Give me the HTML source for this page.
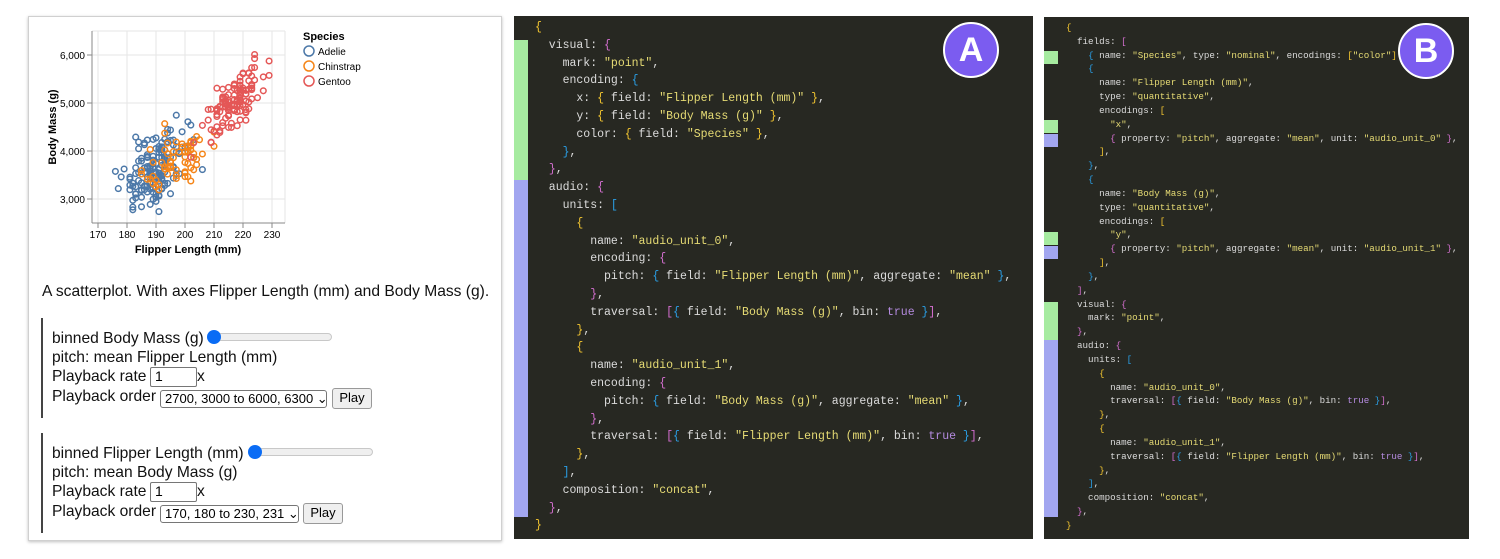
<!DOCTYPE html>
<html><head><meta charset="utf-8">
<style>
html,body{margin:0;padding:0;width:1500px;height:559px;background:#fff;overflow:hidden;position:relative;font-family:"Liberation Sans",Arial,sans-serif}
.card{position:absolute;left:28px;top:16px;width:472px;height:523px;background:#fff;border:1px solid #d0d0d0;box-shadow:0 1px 3px rgba(0,0,0,.25)}
.t{position:absolute;font-size:15.6px;color:#111;white-space:nowrap;line-height:19px}
.sec{position:absolute;left:41px;width:2px;background:#444}
.inp{position:absolute;border:1px solid #767676;border-radius:2px;background:#fff;font-size:14px;padding-left:4px;box-sizing:border-box;line-height:17px}
.sel{position:absolute;border:1px solid #767676;border-radius:3px;background:#fff;font-size:13px;padding-left:4px;box-sizing:border-box;line-height:15px;white-space:nowrap;overflow:hidden}
.btn{position:absolute;border:1px solid #999;border-radius:3px;background:#efefef;font-size:13px;text-align:center;box-sizing:border-box;line-height:18px}
.track{position:absolute;height:6px;border:1px solid #c8c8c8;border-radius:4px;background:#efefef}
.thumb{position:absolute;width:14px;height:14px;border-radius:50%;background:#0a6cf5}
.panel{position:absolute;background:#272822}
pre{margin:0;position:absolute;font-family:"Liberation Mono","DejaVu Sans Mono",monospace;color:#dcdcdc;white-space:pre}
.s{color:#e6db74}.a{color:#f2c530}.p{color:#d46fd0}.b{color:#2a9fe6}.v{color:#b58be0}
.bar{position:absolute}
.g{background:#a6eba0}.u{background:#a2a6f0}
.badge{position:absolute;width:52px;height:52px;border-radius:50%;background:#7b5cf0;border:2px solid #fff;color:#fff;font-weight:bold;font-size:34px;text-align:center;line-height:52px;font-family:"Liberation Sans",Arial,sans-serif}
</style></head><body>
<div class="card"></div>
<svg id="plot" style="position:absolute;left:0;top:0" width="500" height="270">
<g stroke="#e6e6e6" stroke-width="1">
<line x1="98" y1="31" x2="98" y2="223"/><line x1="127" y1="31" x2="127" y2="223"/><line x1="156" y1="31" x2="156" y2="223"/><line x1="185" y1="31" x2="185" y2="223"/><line x1="214" y1="31" x2="214" y2="223"/><line x1="243" y1="31" x2="243" y2="223"/><line x1="272" y1="31" x2="272" y2="223"/>
<line x1="92" y1="55" x2="285" y2="55"/><line x1="92" y1="103" x2="285" y2="103"/><line x1="92" y1="151" x2="285" y2="151"/><line x1="92" y1="199" x2="285" y2="199"/>
<line x1="285" y1="31" x2="285" y2="223"/><line x1="92" y1="31" x2="285" y2="31"/>
</g>
<g id="pts" fill="none" stroke-width="1.5"></g>
<g stroke="#888" stroke-width="1"><line x1="92" y1="31" x2="92" y2="223"/><line x1="92" y1="223" x2="285" y2="223"/>
<line x1="98" y1="223" x2="98" y2="228"/><line x1="127" y1="223" x2="127" y2="228"/><line x1="156" y1="223" x2="156" y2="228"/><line x1="185" y1="223" x2="185" y2="228"/><line x1="214" y1="223" x2="214" y2="228"/><line x1="243" y1="223" x2="243" y2="228"/><line x1="272" y1="223" x2="272" y2="228"/>
<line x1="87" y1="55" x2="92" y2="55"/><line x1="87" y1="103" x2="92" y2="103"/><line x1="87" y1="151" x2="92" y2="151"/><line x1="87" y1="199" x2="92" y2="199"/></g>
<g font-size="10" fill="#000" text-anchor="middle" font-family="Liberation Sans,Arial,sans-serif">
<text x="98" y="238">170</text><text x="127" y="238">180</text><text x="156" y="238">190</text><text x="185" y="238">200</text><text x="214" y="238">210</text><text x="243" y="238">220</text><text x="272" y="238">230</text>
<text text-anchor="end" x="85" y="59">6,000</text><text text-anchor="end" x="85" y="107">5,000</text><text text-anchor="end" x="85" y="155">4,000</text><text text-anchor="end" x="85" y="203">3,000</text>
<text x="188" y="253" font-weight="bold" font-size="11">Flipper Length (mm)</text>
<text transform="translate(56,127) rotate(-90)" font-weight="bold" font-size="11">Body Mass (g)</text>
<text x="303" y="40" font-weight="bold" font-size="11" text-anchor="start">Species</text>
<text x="318" y="55" text-anchor="start">Adelie</text><text x="318" y="70" text-anchor="start">Chinstrap</text><text x="318" y="85" text-anchor="start">Gentoo</text>
</g>
<circle cx="309" cy="51" r="5" fill="none" stroke="#4c78a8" stroke-width="1.5"/>
<circle cx="309" cy="66" r="5" fill="none" stroke="#f58518" stroke-width="1.5"/>
<circle cx="309" cy="81" r="5" fill="none" stroke="#e45756" stroke-width="1.5"/>
</svg>
<script>
(function(){
var s=24680;function r(){s=(s*1103515245+12345)%2147483648;return s/2147483648;}
function n(){var u=r()||1e-6,v=r();return Math.sqrt(-2*Math.log(u))*Math.cos(2*Math.PI*v);}
var g=document.getElementById('pts'),h='';
function add(c,N,mx,sx,my,sy,rho){for(var i=0;i<N;i++){var a=n(),b=n();var x=mx+sx*a,y=my+sy*(rho*a+Math.sqrt(1-rho*rho)*b);
x=Math.round(x);var px=98+(x-170)*2.9,py=199-(y-3000)*0.048;if(px<95||px>283||py<38||py>221)continue;
h+='<circle cx="'+px.toFixed(1)+'" cy="'+py.toFixed(1)+'" r="2.8" stroke="'+c+'"/>';}}
add('#4c78a8',150,190,5.5,3700,420,0.45);
add('#f58518',68,196,6.5,3730,350,0.6);
add('#e45756',120,217,5.5,5050,420,0.75);
g.innerHTML=h;})();
</script>
<div class="t" style="left:42px;top:282px">A scatterplot. With axes Flipper Length (mm) and Body Mass (g).</div>
<div class="sec" style="top:318px;height:100px"></div>
<div class="t" style="left:52px;top:329px">binned Body Mass (g)</div>
<div class="track" style="left:210px;top:333px;width:120px"></div><div class="thumb" style="left:207px;top:330px"></div>
<div class="t" style="left:52px;top:348px">pitch: mean Flipper Length (mm)</div>
<div class="t" style="left:52px;top:367px">Playback rate</div>
<div class="inp" style="left:150px;top:367px;width:47px;height:20px">1</div><div class="t" style="left:197px;top:367px">x</div>
<div class="t" style="left:52px;top:387px">Playback order</div>
<div class="sel" style="left:160px;top:390px;width:167px;height:18px">2700, 3000 to 6000, 6300 ⌄</div>
<div class="btn" style="left:332px;top:388px;width:40px;height:21px">Play</div>
<div class="sec" style="top:433px;height:100px"></div>
<div class="t" style="left:52px;top:444px">binned Flipper Length (mm)</div>
<div class="track" style="left:251px;top:448px;width:120px"></div><div class="thumb" style="left:248px;top:445px"></div>
<div class="t" style="left:52px;top:463px">pitch: mean Body Mass (g)</div>
<div class="t" style="left:52px;top:482px">Playback rate</div>
<div class="inp" style="left:150px;top:482px;width:47px;height:20px">1</div><div class="t" style="left:197px;top:482px">x</div>
<div class="t" style="left:52px;top:502px">Playback order</div>
<div class="sel" style="left:160px;top:505px;width:139px;height:18px">170, 180 to 230, 231 ⌄</div>
<div class="btn" style="left:303px;top:503px;width:40px;height:21px">Play</div>

<div class="panel" style="left:514px;top:16px;width:519px;height:523px"></div>
<div class="bar g" style="left:514px;top:40px;width:14px;height:140px"></div>
<div class="bar u" style="left:514px;top:180px;width:14px;height:337px"></div>
<pre style="left:535px;top:19px;font-size:11.5px;line-height:17.8px"><span class="a">{</span>
  visual: <span class="p">{</span>
    mark: <span class="s">"point"</span>,
    encoding: <span class="b">{</span>
      x: <span class="a">{</span> field: <span class="s">"Flipper Length (mm)"</span> <span class="a">}</span>,
      y: <span class="a">{</span> field: <span class="s">"Body Mass (g)"</span> <span class="a">}</span>,
      color: <span class="a">{</span> field: <span class="s">"Species"</span> <span class="a">}</span>,
    <span class="b">}</span>,
  <span class="p">}</span>,
  audio: <span class="p">{</span>
    units: <span class="b">[</span>
      <span class="a">{</span>
        name: <span class="s">"audio_unit_0"</span>,
        encoding: <span class="p">{</span>
          pitch: <span class="b">{</span> field: <span class="s">"Flipper Length (mm)"</span>, aggregate: <span class="s">"mean"</span> <span class="b">}</span>,
        <span class="p">}</span>,
        traversal: <span class="p">[</span><span class="b">{</span> field: <span class="s">"Body Mass (g)"</span>, bin: <span class="v">true</span> <span class="b">}</span><span class="p">]</span>,
      <span class="a">}</span>,
      <span class="a">{</span>
        name: <span class="s">"audio_unit_1"</span>,
        encoding: <span class="p">{</span>
          pitch: <span class="b">{</span> field: <span class="s">"Body Mass (g)"</span>, aggregate: <span class="s">"mean"</span> <span class="b">}</span>,
        <span class="p">}</span>,
        traversal: <span class="p">[</span><span class="b">{</span> field: <span class="s">"Flipper Length (mm)"</span>, bin: <span class="v">true</span> <span class="b">}</span><span class="p">]</span>,
      <span class="a">}</span>,
    <span class="b">]</span>,
    composition: <span class="s">"concat"</span>,
  <span class="p">}</span>,
<span class="a">}</span></pre>
<div class="badge" style="left:943px;top:22px">A</div>

<div class="panel" style="left:1044px;top:17px;width:425px;height:522px"></div>
<div class="bar g" style="left:1044px;top:51px;width:14px;height:13px"></div>
<div class="bar g" style="left:1044px;top:120px;width:14px;height:13px"></div>
<div class="bar u" style="left:1044px;top:134px;width:14px;height:13px"></div>
<div class="bar g" style="left:1044px;top:232px;width:14px;height:13px"></div>
<div class="bar u" style="left:1044px;top:246px;width:14px;height:13px"></div>
<div class="bar g" style="left:1044px;top:302px;width:14px;height:38px"></div>
<div class="bar u" style="left:1044px;top:340px;width:14px;height:177px"></div>
<pre style="left:1066px;top:21px;font-size:9.2px;line-height:13.83px"><span class="a">{</span>
  fields: <span class="p">[</span>
    <span class="b">{</span> name: <span class="s">"Species"</span>, type: <span class="s">"nominal"</span>, encodings: <span class="a">[</span><span class="s">"color"</span><span class="a">]</span> <span class="b">}</span>,
    <span class="b">{</span>
      name: <span class="s">"Flipper Length (mm)"</span>,
      type: <span class="s">"quantitative"</span>,
      encodings: <span class="a">[</span>
        <span class="s">"x"</span>,
        <span class="p">{</span> property: <span class="s">"pitch"</span>, aggregate: <span class="s">"mean"</span>, unit: <span class="s">"audio_unit_0"</span> <span class="p">}</span>,
      <span class="a">]</span>,
    <span class="b">}</span>,
    <span class="b">{</span>
      name: <span class="s">"Body Mass (g)"</span>,
      type: <span class="s">"quantitative"</span>,
      encodings: <span class="a">[</span>
        <span class="s">"y"</span>,
        <span class="p">{</span> property: <span class="s">"pitch"</span>, aggregate: <span class="s">"mean"</span>, unit: <span class="s">"audio_unit_1"</span> <span class="p">}</span>,
      <span class="a">]</span>,
    <span class="b">}</span>,
  <span class="p">]</span>,
  visual: <span class="p">{</span>
    mark: <span class="s">"point"</span>,
  <span class="p">}</span>,
  audio: <span class="p">{</span>
    units: <span class="b">[</span>
      <span class="a">{</span>
        name: <span class="s">"audio_unit_0"</span>,
        traversal: <span class="p">[</span><span class="b">{</span> field: <span class="s">"Body Mass (g)"</span>, bin: <span class="v">true</span> <span class="b">}</span><span class="p">]</span>,
      <span class="a">}</span>,
      <span class="a">{</span>
        name: <span class="s">"audio_unit_1"</span>,
        traversal: <span class="p">[</span><span class="b">{</span> field: <span class="s">"Flipper Length (mm)"</span>, bin: <span class="v">true</span> <span class="b">}</span><span class="p">]</span>,
      <span class="a">}</span>,
    <span class="b">]</span>,
    composition: <span class="s">"concat"</span>,
  <span class="p">}</span>,
<span class="a">}</span></pre>
<div class="badge" style="left:1398px;top:23px">B</div>
</body></html>
